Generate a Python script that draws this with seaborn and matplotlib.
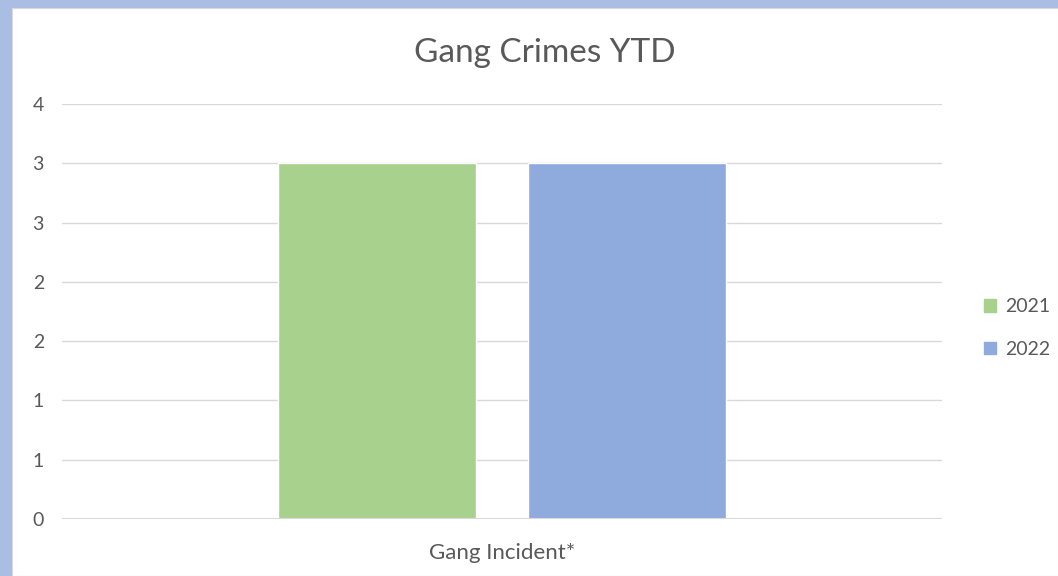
import matplotlib
matplotlib.use("Agg")
import matplotlib.pyplot as plt
import matplotlib.patches as mpatches
import pandas as pd
import seaborn as sns

# ---------------------------------------------------------------------------
# Data
# ---------------------------------------------------------------------------
categories = ["Gang Incident*"]
years = ["2021", "2022"]
values_2021 = [3]
values_2022 = [3]
ytick_values = [0, 0.5, 1, 1.5, 2, 2.5, 3, 3.5]
ytick_labels = ["0", "1", "1", "2", "2", "3", "3", "4"]

df = pd.DataFrame({
    "category": categories * 2,
    "year": [years[0]] * len(values_2021) + [years[1]] * len(values_2022),
    "count": values_2021 + values_2022,
})

palette = {"2021": "#A9D18E", "2022": "#8FAADC"}
text_color = "#595959"

sns.set_style("white")
plt.rcParams["font.family"] = ["Lato", "DejaVu Sans"]

fig = plt.figure(figsize=(10.58, 5.76), dpi=100)
fig.patch.set_facecolor("#A9BEE2")

# white chart area (slide background shows on left/top)
bg = fig.add_axes([12 / 1058, 0, 1 - 12 / 1058, 1 - 8 / 576], zorder=-10)
bg.set_facecolor("white")
bg.set_xticks([])
bg.set_yticks([])
for s in bg.spines.values():
    s.set_color("#D9D9D9")

ax = fig.add_axes([62 / 1058, 1 - 519 / 576, 880 / 1058, (519 - 104) / 576])
sns.barplot(data=df, x="category", y="count", hue="year", palette=palette,
            width=0.568, gap=0.208, saturation=1, ax=ax, legend=False)

ax.set_ylim(0, 3.5)
ax.set_xlim(-0.5, 0.5)
ax.set_yticks(ytick_values)
ax.set_yticklabels(ytick_labels)
ax.yaxis.grid(True, color="#D9D9D9", linewidth=1)
ax.set_axisbelow(True)
ax.axhline(0, color="#D9D9D9", linewidth=1.5, zorder=5)
for s in ax.spines.values():
    s.set_visible(False)
ax.tick_params(axis="y", length=0, pad=13, labelsize=14, labelcolor=text_color)
ax.tick_params(axis="x", length=0, pad=17, labelsize=16, labelcolor=text_color)
ax.set_xlabel("")
ax.set_ylabel("")
ax.set_facecolor("none")

fig.text(545 / 1058, 1 - 62 / 576, "Gang Crimes YTD", ha="center", va="baseline",
         fontsize=24, color=text_color)

handles = [mpatches.Patch(color=palette[y], label=y) for y in years]
fig.legend(handles=handles, loc="center left", bbox_to_anchor=(984 / 1058, 1 - 328 / 576),
           frameon=False, fontsize=14, labelcolor=text_color, handlelength=0.6,
           handleheight=0.6, handletextpad=0.5, labelspacing=1.3,
           borderaxespad=0, borderpad=0)

fig.savefig("out.png", dpi=100, facecolor=fig.get_facecolor())
